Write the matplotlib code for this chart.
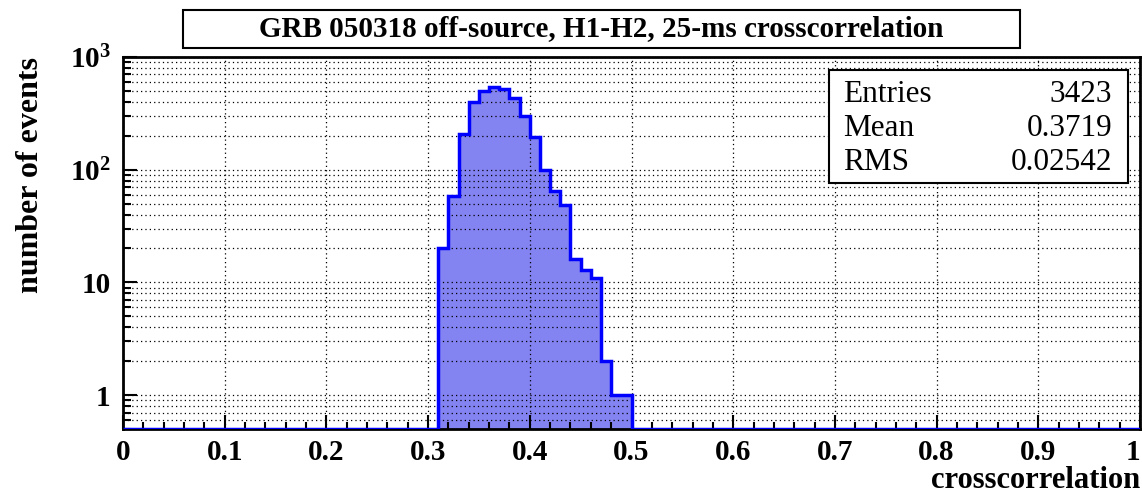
import numpy as np
import matplotlib
matplotlib.use("Agg")
import matplotlib.pyplot as plt
from matplotlib.patches import Rectangle
from matplotlib.ticker import MultipleLocator, LogLocator, FixedLocator, NullFormatter

# histogram data (100 bins over 0..1, only non-empty ones listed)
bin_width = 0.01
first_bin_edge = 0.31
counts = [20, 59, 209, 400, 500, 540, 520, 430, 300, 195, 99, 65, 49, 16, 13, 11, 2, 1, 1]

title = "GRB 050318 off-source, H1-H2, 25-ms crosscorrelation"
xlabel = "crosscorrelation"
ylabel = "number of events"
stats_names = ["Entries", "Mean", "RMS"]
stats_values = ["3423", "0.3719", "0.02542"]
x_ticklabels = ["0", "0.1", "0.2", "0.3", "0.4", "0.5", "0.6", "0.7", "0.8", "0.9", "1"]
y_ticks = [1, 10, 100, 1000]
y_ticklabels = ["1", "10", r"$\mathbf{10^{2}}$", r"$\mathbf{10^{3}}$"]

ymin, ymax = 0.5, 1000

plt.rcParams["font.family"] = ["Liberation Serif", "DejaVu Serif"]
plt.rcParams["mathtext.fontset"] = "custom"
plt.rcParams["mathtext.rm"] = "Liberation Serif"
plt.rcParams["mathtext.bf"] = "Liberation Serif:bold"

W, H = 1142, 495
fig = plt.figure(figsize=(W / 100, H / 100), dpi=100)
ax = fig.add_axes([123 / W, 1 - 429 / H, (1140 - 123) / W, (429 - 57) / H])

edges = np.round(np.arange(0, 1 + bin_width / 2, bin_width), 4)
full = np.zeros(len(edges) - 1)
i0 = int(round(first_bin_edge / bin_width))
full[i0:i0 + len(counts)] = counts
vals = np.maximum(full, ymin)

# fill sits under the dotted grid (ROOT pattern fill lets the grid show through)
ax.stairs(vals, edges, baseline=ymin, fill=True, facecolor="#8383f2",
          edgecolor="none", zorder=1)
ax.stairs(vals, edges, baseline=None, color="#0000ff", linewidth=2.5, zorder=3)

ax.set_yscale("log")
ax.set_xlim(0, 1)
ax.set_ylim(ymin, ymax)

ax.xaxis.set_minor_locator(MultipleLocator(0.02))
ax.set_xticks(np.round(np.arange(0, 1.01, 0.1), 2))
ax.set_xticklabels(x_ticklabels)
ax.yaxis.set_major_locator(FixedLocator(y_ticks))
ax.set_yticklabels(y_ticklabels)
ax.yaxis.set_minor_locator(LogLocator(base=10, subs=np.arange(2, 10)))
ax.yaxis.set_minor_formatter(NullFormatter())

ax.tick_params(axis="both", which="both", direction="in", top=False, right=False,
               labelsize=21, width=1.5, colors="black")
ax.tick_params(axis="both", which="major", length=10)
ax.tick_params(axis="x", which="major", pad=7)
ax.tick_params(axis="y", which="major", pad=9)
ax.tick_params(axis="y", which="minor", length=6)
ax.tick_params(axis="x", which="minor", length=5)
for lab in ax.get_xticklabels() + ax.get_yticklabels():
    lab.set_fontweight("bold")
ax.get_xticklabels()[-1].set_horizontalalignment("right")

ax.set_axisbelow(False)
ax.grid(True, which="major", axis="both", linestyle=(0, (1, 2.5)), color="black",
        linewidth=0.9)
ax.grid(True, which="minor", axis="y", linestyle=(0, (1, 2.5)), color="black",
        linewidth=0.9)
for s in ax.spines.values():
    s.set_linewidth(2)

ax.set_xlabel(xlabel, fontsize=22, fontweight="bold", loc="right", labelpad=0)
ax.set_ylabel(ylabel, fontsize=23, fontweight="bold", loc="top", labelpad=18)

# title box
fig.patches.append(Rectangle((183 / W, 1 - 48 / H), (1020 - 183) / W, 38 / H,
                             transform=fig.transFigure, facecolor="white",
                             edgecolor="black", linewidth=1.5))
fig.text((183 + 1020) / 2 / W, 1 - 29 / H, title, ha="center", va="center",
         fontsize=21, fontweight="bold")

# stats box
bx0, bx1 = 829 / W, 1128 / W
by0, by1 = 1 - 183 / H, 1 - 70 / H
fig.patches.append(Rectangle((bx0, by0), bx1 - bx0, by1 - by0, transform=fig.transFigure,
                             facecolor="white", edgecolor="black", linewidth=1.5, zorder=5))
for k, (n, v) in enumerate(zip(stats_names, stats_values)):
    yy = 1 - (95 + 34 * k) / H
    fig.text(bx0 + 14 / W, yy, n, ha="left", va="center", fontsize=22.5, zorder=6)
    fig.text(bx1 - 16 / W, yy, v, ha="right", va="center", fontsize=22.5, zorder=6)

fig.savefig("out.png", dpi=100)
